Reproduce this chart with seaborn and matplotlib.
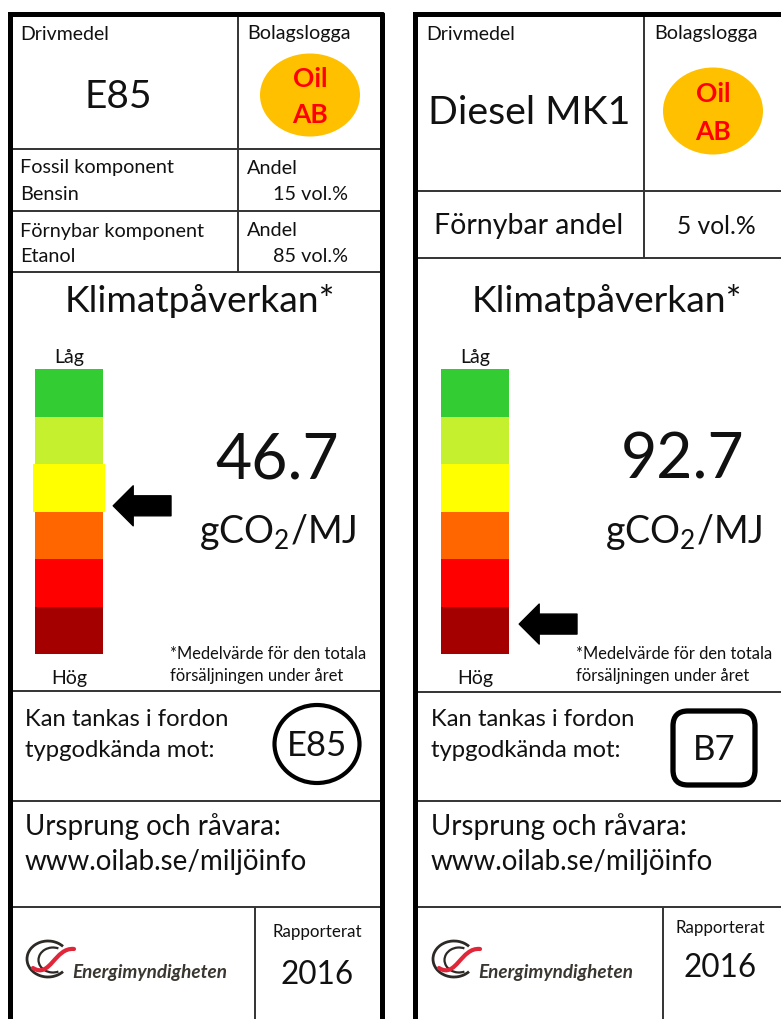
import numpy as np
import matplotlib
matplotlib.use("Agg")
import matplotlib.pyplot as plt
import matplotlib.patches as mpatches
from matplotlib.path import Path
from matplotlib.colors import ListedColormap
import seaborn as sns

# --- label content -------------------------------------------------------
fuel_names = ["E85", "Diesel MK1"]
logo_text = ["Oil", "AB"]
e85_components = ["Bensin", "Etanol"]
e85_shares = [15, 85]            # vol.% fossil / renewable
diesel_renewable_share = 5       # vol.%
emission_values = [46.7, 92.7]   # gCO2/MJ
scale_colors = ["#33CC33", "#C4F02E", "#FFFF00", "#FF6600", "#FF0000", "#A50000"]
active_levels = [2, 5]           # scale step of each fuel (0 = Låg)
widen_active = [True, False]     # E85 label draws its step slightly wider
arrow_positions = [2.88, 5.37]   # arrow position on the 0..6 scale
approval_marks = ["E85", "B7"]
origin_url = "www.oilab.se/miljöinfo"
report_years = [2016, 2016]

sns.set_theme(style="white")
plt.rcParams["font.family"] = ["Lato", "DejaVu Sans"]
plt.rcParams["mathtext.fontset"] = "custom"

W, H = 781, 1020
fig = plt.figure(figsize=(W / 100, H / 100), dpi=100)
ax = fig.add_axes([0, 0, 1, 1])
ax.set_xlim(0, W)
ax.set_ylim(H, 0)
ax.axis("off")

LINE = "#333333"


def hline(y, x1, x2, lw=1.4, color=LINE):
    ax.plot([x1, x2], [y, y], color=color, lw=lw, solid_capstyle="butt")


def vline(x, y1, y2, lw=1.4, color=LINE):
    ax.plot([x, x], [y1, y2], color=color, lw=lw, solid_capstyle="butt")


def txt(x, y, s, size, ha="left", **kw):
    ax.text(x, y, s, fontsize=size, ha=ha, va="center", color=kw.pop("color", "#111111"), **kw)


def company_logo(cx, cy, w, h):
    ax.add_patch(mpatches.Ellipse((cx, cy), w, h, color="#FFC000", lw=0))
    txt(cx, cy - h * 0.21, logo_text[0], 19, ha="center", color="#FF0000", weight="bold")
    txt(cx, cy + h * 0.23, logo_text[1], 19, ha="center", color="#FF0000", weight="bold")


def energimyndigheten(x, y):
    dark = "#2d2a26"
    ax.add_patch(mpatches.Arc((x + 20, y - 6), 42, 36, theta1=40, theta2=320, color=dark, lw=2.0))
    ax.add_patch(mpatches.Arc((x + 25, y - 5), 29, 25, theta1=65, theta2=295, color=dark, lw=1.6))
    verts = [(x + 5, y + 3), (x + 22, y + 14), (x + 27, y - 18), (x + 46, y - 16)]
    path = Path(verts, [Path.MOVETO, Path.CURVE4, Path.CURVE4, Path.CURVE4])
    ax.add_patch(mpatches.PathPatch(path, fill=False, color="#E0273A", lw=3.0, capstyle="round"))
    ax.text(x + 44, y + 7, "Energimyndigheten", fontsize=13.6, style="italic", weight="bold",
            color="#3a3630", ha="left", va="center")


def climate_block(i, dx, y_bottom):
    # colour scale as a one-column heatmap
    bx, by, bw, bh = 35 + dx, 370, 68, 285
    bax = fig.add_axes([bx / W, 1 - (by + bh) / H, bw / W, bh / H])
    levels = np.arange(len(scale_colors)).reshape(-1, 1)
    sns.heatmap(levels, cmap=ListedColormap(scale_colors), cbar=False, ax=bax,
                xticklabels=False, yticklabels=False, linewidths=0)
    bax.set_axis_off()
    lv = active_levels[i]
    if widen_active[i]:
        bax.add_patch(mpatches.Rectangle((-0.03, lv), 1.06, 1, color=scale_colors[lv],
                                         clip_on=False, lw=0))
    bax.text(0.5, -0.27, "Låg", fontsize=14, ha="center", va="center", color="#111111")
    bax.text(0.5, 6.5, "Hög", fontsize=14, ha="center", va="center", color="#111111")
    bax.annotate("", xy=(1.15, arrow_positions[i]), xytext=(2.0, arrow_positions[i]),
                 annotation_clip=False,
                 arrowprops=dict(arrowstyle="simple,head_length=0.72,head_width=1.44,tail_width=0.72",
                                 mutation_scale=20, fc="black", ec="black",
                                 shrinkA=0, shrinkB=0))

    txt(200 + dx + (1 if i else 0), 301, "Klimatpåverkan*", 26.7, ha="center")
    txt(277 + dx, 461, f"{emission_values[i]:.1f}", 45, ha="center")
    txt(278 + dx, 532, r"gCO$\mathregular{_2}$/MJ", 27, ha="center")
    txt(170 + dx, 654, "*Medelvärde för den totala", 11.9)
    txt(170 + dx, 676, "försäljningen under året", 11.9)
    hline(y_bottom, 10 + dx, 383 + dx if i == 0 else W + 5)


def lower_blocks(i, dx, y_mid, y_bottom, y_rep, y_year):
    txt(25 + dx, 720, "Kan tankas i fordon", 17.2)
    txt(25 + dx, 751, "typgodkända mot:", 17.2)
    if i == 0:
        ax.add_patch(mpatches.Ellipse((317, 745), 85, 78, fill=False, lw=3, ec="black"))
        txt(317, 746, approval_marks[0], 25, ha="center")
    else:
        ax.add_patch(mpatches.FancyBboxPatch((673, 712), 82, 74,
                                             boxstyle="round,pad=0,rounding_size=15",
                                             fill=False, lw=3.8, ec="black"))
        txt(714, 750, approval_marks[1], 25, ha="center")
    right = 383 if i == 0 else W + 5
    hline(y_mid, 10 + dx, right)
    txt(25 + dx, 827, "Ursprung och råvara:", 20)
    txt(25 + dx, 862, origin_url, 20)
    hline(y_bottom, 10 + dx, right)
    vline(255 + dx + (2 if i else 0), y_bottom, H + 5)
    energimyndigheten(28 + dx, 966)
    cx = 317 + dx + (-3 if i else 0)
    txt(cx, y_rep, "Rapporterat", 12.2, ha="center")
    txt(cx, y_year, str(report_years[i]), 22.7, ha="center")


# ---------------- left label: E85 ----------------
vline(238, 14, 273)
hline(150, 10, 383)
hline(212, 10, 383)
hline(273, 10, 383)
txt(20, 34, "Drivmedel", 14)
txt(118, 97, fuel_names[0], 28, ha="center")
txt(247, 34, "Bolagslogga", 14.2)
company_logo(310, 96, 100, 83)
txt(20, 168, "Fossil komponent", 14.3)
txt(20, 194, e85_components[0], 14.3)
txt(247, 168, "Andel", 14.3)
txt(348, 194, f"{e85_shares[0]} vol.%", 14.3, ha="right")
txt(20, 231, "Förnybar komponent", 14.3)
txt(20, 256, e85_components[1], 14.3)
txt(247, 231, "Andel", 14.3)
txt(348, 256, f"{e85_shares[1]} vol.%", 14.3, ha="right")
climate_block(0, 0, 692)
lower_blocks(0, 0, 802, 908, 932, 975)

# ---------------- right label: Diesel MK1 ----------------
dx = 406
vline(644, 14, 259)
hline(192, 415, W + 5)
hline(259, 415, W + 5)
txt(426, 34, "Drivmedel", 14)
txt(529, 113, fuel_names[1], 28.3, ha="center")
txt(654, 34, "Bolagslogga", 14.2)
company_logo(713, 112, 100, 87)
txt(529, 226, "Förnybar andel", 20.5, ha="center")
txt(716, 226, f"{diesel_renewable_share} vol.%", 17.7, ha="center")
climate_block(1, dx, 693)
lower_blocks(1, dx, 802, 908, 928, 968)

# outer borders
for x_left, x_right in [(9.5, 381.5), (415, W + 10)]:
    ax.plot([x_left, x_left, x_right], [H + 10, 14.5, 14.5], color="black", lw=3.6,
            solid_joinstyle="miter")
    if x_right < W:
        ax.plot([x_right, x_right], [14.5, H + 10], color="black", lw=3.6)

fig.savefig("out.png", dpi=100, facecolor="white")
